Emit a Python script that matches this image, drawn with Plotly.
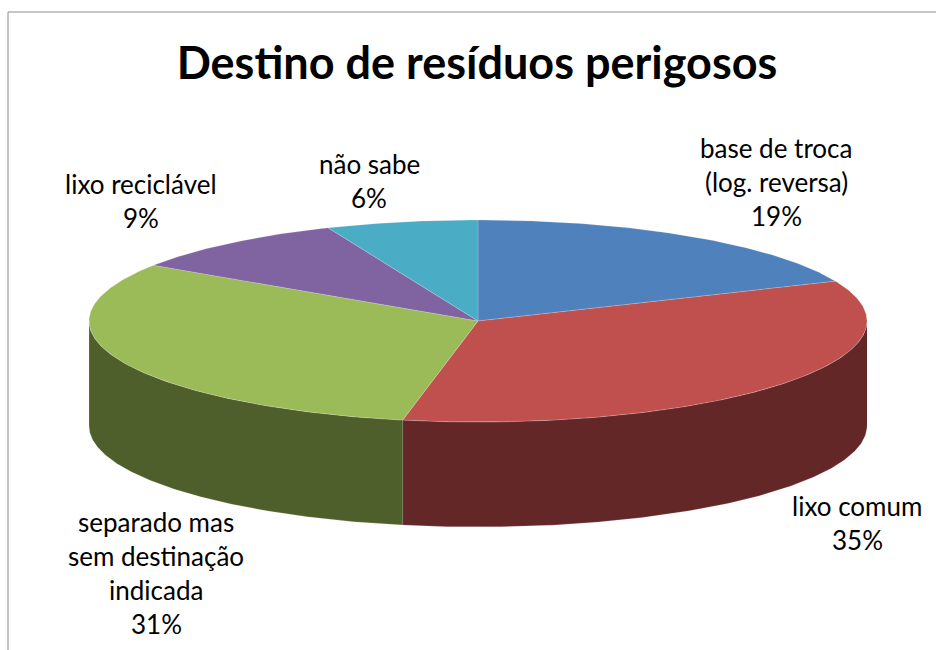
import numpy as np
import plotly.graph_objects as go

TITLE = "Destino de resíduos perigosos"

categories = [
    "base de troca\n(log. reversa)",
    "lixo comum",
    "separado mas\nsem destinação\nindicada",
    "lixo reciclável",
    "não sabe",
]
# shares, the labels show them rounded
shares = [18.55, 34.55, 31.2, 9.4, 6.3]

top_colors = ["#4F81BD", "#C0504D", "#9BBB59", "#8064A2", "#4BACC6"]
wall_colors = ["#31507A", "#632728", "#4F5F2C", "#4C3B62", "#2B6E80"]

# pie geometry, in page pixels
CX, CY = 478, 321
RX, RY = 389, 101
DEPTH = 105

# label centres (middle of first line), in page pixels
label_pos = [(776, 148), (857, 506), (156, 522), (141, 184), (369, 164)]
LINE_H = 34


def arc(t0, t1):
    # angles in degrees, clockwise from the top of the ellipse
    t = np.radians(np.linspace(t0, t1, max(int(abs(t1 - t0) * 2), 2)))
    return CX + RX * np.sin(t), CY - RY * np.cos(t)


ends = np.cumsum(shares) * 3.6
starts = ends - np.array(shares) * 3.6

fig = go.Figure()

# side walls, only the part facing the viewer (90 to 270 degrees)
for name, a, b, color in zip(categories, starts, ends, wall_colors):
    lo, hi = max(a, 90), min(b, 270)
    if lo >= hi:
        continue
    x, y = arc(lo, hi)
    fig.add_trace(go.Scatter(
        x=np.concatenate([x, x[::-1]]),
        y=np.concatenate([y, y[::-1] + DEPTH]),
        fill="toself", fillcolor=color, mode="lines",
        line=dict(color="rgba(255,255,255,0.3)", width=0.6),
        name=name.replace("\n", " "), hoverinfo="name",
    ))

# top face
for name, a, b, color in zip(categories, starts, ends, top_colors):
    x, y = arc(a, b)
    fig.add_trace(go.Scatter(
        x=np.concatenate([[CX], x, [CX]]),
        y=np.concatenate([[CY], y, [CY]]),
        fill="toself", fillcolor=color, mode="lines",
        line=dict(color="rgba(255,255,255,0.3)", width=0.6),
        name=name.replace("\n", " "), hoverinfo="name",
    ))

# one annotation per line, the line spacing of the original is wider than plotly's
for name, share, (lx, ly) in zip(categories, shares, label_pos):
    lines = name.split("\n") + [f"{round(share)}%"]
    for i, line in enumerate(lines):
        fig.add_annotation(
            x=lx, y=ly + i * LINE_H, text=line, showarrow=False,
            xanchor="center", yanchor="middle",
            font=dict(family="Lato", size=26, color="#000000"),
        )

# chart frame, cut off by the edge of the picture
fig.add_shape(type="line", x0=8, x1=936, y0=12, y1=12, line=dict(color="#8C8C8C", width=1))
fig.add_shape(type="line", x0=8, x1=8, y0=12, y1=650, line=dict(color="#8C8C8C", width=1))

fig.update_layout(
    width=936,
    height=650,
    margin=dict(l=0, r=0, t=0, b=0),
    paper_bgcolor="white",
    plot_bgcolor="white",
    showlegend=False,
    title=dict(
        text=TITLE, x=477 / 936, xanchor="center", y=1 - 63 / 650, yanchor="middle",
        font=dict(family="Lato", size=45, color="#000000", weight="bold"),
    ),
    xaxis=dict(range=[0, 936], visible=False, fixedrange=True),
    yaxis=dict(range=[650, 0], visible=False, fixedrange=True),
)

# the browser's default body margin would push the figure 8px off
fig.write_html(
    "out.html",
    config={"displayModeBar": False},
    post_script="document.body.style.margin = '0';",
)
